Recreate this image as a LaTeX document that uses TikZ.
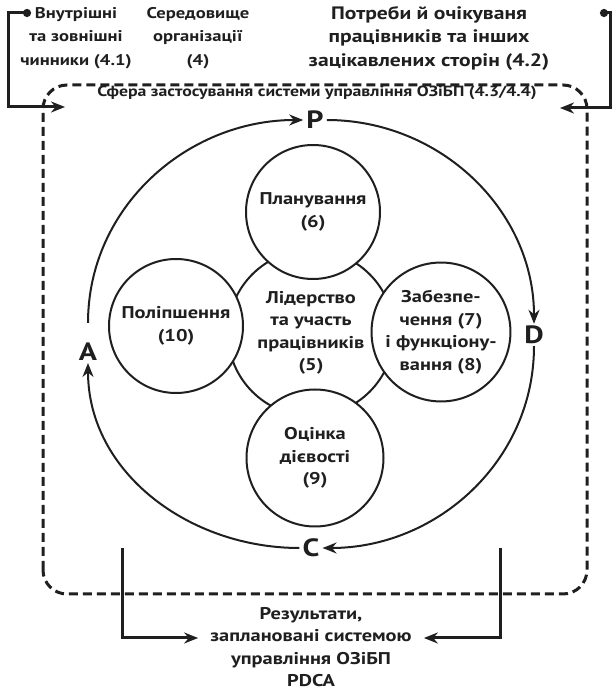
\documentclass[tikz,border=0pt]{standalone}
\usepackage{fontspec}
\setmainfont{PT Sans}[FakeStretch=1.2]
\usetikzlibrary{arrows.meta}
\colorlet{ink}{black!88}

\tikzset{
  txt/.style={font=\bfseries\fontsize{17}{22.5}\selectfont, text=ink, align=center, inner sep=0},
  notetxt/.style={txt, font=\bfseries\fontsize{15.5}{23.5}\selectfont},
  petal/.style={circle, draw=ink, line width=2pt, fill=white, minimum size=134pt, inner sep=0, align=center,
    font=\bfseries\fontsize{17}{22.5}\selectfont, text=ink},
  letter/.style={font=\bfseries\fontsize{25}{25}\selectfont, text=ink, inner xsep=3pt, inner ysep=2pt},
  cyc/.style={draw=ink, line width=2pt, -{Stealth[length=14pt,width=11pt]}},
  feed/.style={draw=ink, line width=3pt, {Circle[length=8pt]}-{Stealth[length=14pt,width=11pt]}},
  flow/.style={draw=ink, line width=3pt, -{Stealth[length=14pt,width=11pt]}},
  scopebox/.style={draw=ink, line width=3pt, dash pattern=on 9pt off 5pt, rounded corners=24pt}
}

\begin{document}
\begin{tikzpicture}[x=1pt,y=1pt]
\useasboundingbox (0,0) rectangle (613,694);
\draw[scopebox] (43,100) rectangle (587,609);

\node[notetxt] (note1) at (76,656) {Внутрішні\\та зовнішні\\чинники (4.1)};
\node[notetxt] (note2) at (198,656) {Середовище\\організації\\(4)};
\node[txt, font=\bfseries\fontsize{18}{23.5}\selectfont] (note3) at (429,656) {Потреби й очікуваня\\працівників та інших\\зацікавлених сторін (4.2)};
\node[txt, font=\bfseries\fontsize{14.8}{15}\selectfont] (scope) at (317,601) {Сфера застосування системи управління ОЗіБП (4.3/4.4)};

\coordinate (dot1) at (31,681);
\coordinate (in1) at (65,587);
\coordinate (dot2) at (600,681);
\coordinate (in2) at (560,586);
\draw[feed] (dot1) -- ++(-23,0) |- (in1);
\draw[feed] (dot2) -- ++(10,0) |- (in2);

\node[petal, minimum size=166pt] (lead) at (311,361) {Лідерство\\та участь\\працівників\\(5)};
\node[petal] (plan) at (313,482) {Планування\\(6)};
\node[petal] (supp) at (441,362) {Забезпе-\\чення (7)\\і функціону-\\вання (8)};
\node[petal] (impr) at (176,368) {Поліпшення\\(10)};
\node[petal, minimum size=137pt] (eval) at (315,236) {Оцінка\\дієвості\\(9)};

\node[letter] (P) at (315,574) {P};
\node[letter] (D) at (534,359) {D};
\node[letter] (C) at (311,146) {C};
\node[letter] (A) at (88,342) {A};
\draw[cyc] ([yshift=18pt]A.north) to[out=90,in=180] (P.west);
\draw[cyc] (P.east) to[out=0,in=90] (D.north);
\draw[cyc] (D.south) to[out=-90,in=0] (C.east);
\draw[cyc] (C.west) to[out=180,in=-90] (A.south);

\node[txt] (res) at (311,47) {Результати,\\заплановані системою\\управління ОЗіБП\\PDCA};
\coordinate (out1) at (122,146);
\coordinate (out2) at (500,146);
\draw[flow] (out1) |- ([xshift=-12pt,yshift=9pt]res.west);
\draw[flow] (out2) |- ([xshift=12pt,yshift=9pt]res.east);
\end{tikzpicture}
\end{document}
